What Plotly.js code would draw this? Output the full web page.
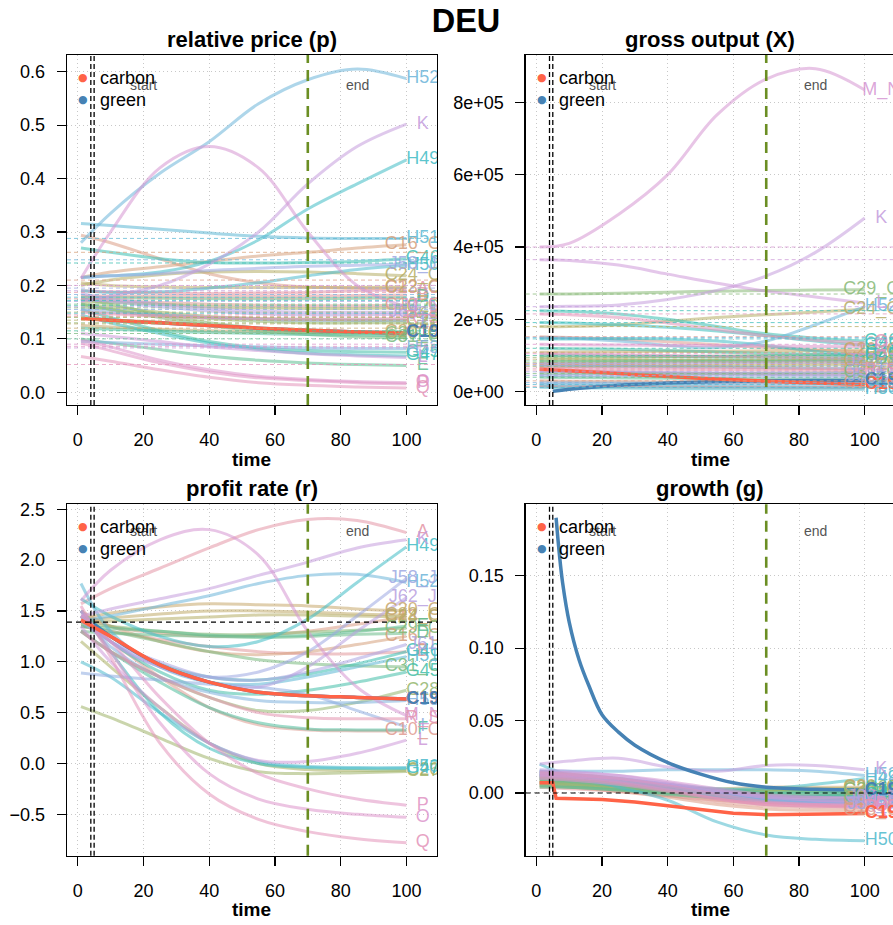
<!DOCTYPE html>
<html>
<head>
<meta charset="utf-8">
<script src="https://cdn.plot.ly/plotly-3.0.1.min.js"></script>
<style>html,body{margin:0;padding:0;background:#fff;}#chart{width:893px;height:925px;}</style>
</head>
<body>
<div id="chart"></div>
<script>
// ---------------- DATA ----------------
const time = [1, 10, 25, 40, 55, 70, 85, 100];
const sectors = ["A","B","C10_C12","C13_C15","C16_C18","C20_C21","C22_C23","C24_C25","C26","C27","C28","C29_C30","C31_C33","D","E","F","G45","G46","G47","H49","H50","H51","H52","H53","I","J58_J60","J61","J62_J63","K","L","M_N","O","P","Q","R_S"];
const xTicks = [0, 20, 40, 60, 80, 100];
const outputTickVals = [0, 200000, 400000, 600000, 800000];
const outputTickText = ["0e+00", "2e+05", "4e+05", "6e+05", "8e+05"];
const panelTitles = ["relative price (p)", "gross output (X)", "profit rate (r)", "growth (g)"];
const figTitle = "DEU";
const carbonLabel = "C19", greenLabel = "C19";

// relative price (p), rows follow `sectors`
const priceSeries = [
 [0.19,0.188,0.186,0.185,0.186,0.187,0.19,0.192],
 [0.18,0.18,0.18,0.18,0.18,0.18,0.181,0.182],
 [0.175,0.172,0.168,0.165,0.163,0.162,0.162,0.163],
 [0.294,0.28,0.25,0.222,0.205,0.197,0.195,0.195],
 [0.215,0.225,0.235,0.245,0.255,0.262,0.27,0.276],
 [0.125,0.122,0.118,0.115,0.113,0.112,0.112,0.112],
 [0.205,0.2,0.197,0.196,0.196,0.196,0.196,0.197],
 [0.2,0.21,0.22,0.225,0.226,0.225,0.222,0.218],
 [0.17,0.168,0.165,0.16,0.158,0.157,0.157,0.158],
 [0.165,0.16,0.15,0.142,0.138,0.136,0.135,0.135],
 [0.16,0.155,0.145,0.138,0.133,0.13,0.13,0.13],
 [0.175,0.165,0.145,0.13,0.12,0.113,0.11,0.108],
 [0.165,0.155,0.14,0.125,0.115,0.108,0.104,0.102],
 [0.178,0.177,0.176,0.175,0.175,0.175,0.176,0.177],
 [0.1,0.092,0.08,0.068,0.06,0.055,0.052,0.05],
 [0.12,0.118,0.115,0.112,0.11,0.108,0.107,0.106],
 [0.155,0.14,0.115,0.095,0.083,0.078,0.076,0.075],
 [0.27,0.262,0.25,0.243,0.242,0.243,0.245,0.25],
 [0.145,0.13,0.11,0.092,0.08,0.073,0.07,0.068],
 [0.215,0.218,0.225,0.245,0.285,0.343,0.39,0.435],
 [0.19,0.187,0.188,0.195,0.205,0.218,0.23,0.238],
 [0.316,0.312,0.305,0.298,0.292,0.289,0.288,0.288],
 [0.28,0.335,0.41,0.469,0.54,0.585,0.605,0.587],
 [0.095,0.093,0.09,0.087,0.085,0.083,0.082,0.082],
 [0.155,0.15,0.145,0.14,0.137,0.135,0.135,0.135],
 [0.215,0.218,0.222,0.228,0.232,0.236,0.238,0.24],
 [0.175,0.17,0.16,0.152,0.147,0.145,0.145,0.146],
 [0.185,0.175,0.165,0.157,0.152,0.15,0.15,0.15],
 [0.17,0.18,0.2,0.24,0.3,0.39,0.46,0.502],
 [0.11,0.105,0.095,0.085,0.078,0.072,0.068,0.065],
 [0.213,0.3,0.42,0.46,0.42,0.3,0.2,0.16],
 [0.098,0.085,0.06,0.042,0.03,0.024,0.02,0.018],
 [0.092,0.078,0.055,0.038,0.027,0.022,0.018,0.016],
 [0.067,0.058,0.042,0.028,0.018,0.013,0.01,0.008],
 [0.15,0.147,0.142,0.14,0.138,0.137,0.137,0.138]
];
// dashed reference levels in the price panel, one per sector
const priceRef = [0.187,0.175,0.142,0.21,0.262,0.12,0.128,0.135,0.15,0.14,0.13,0.158,0.11,0.165,0.1,0.115,0.162,0.242,0.172,0.148,0.178,0.288,0.248,0.183,0.155,0.195,0.17,0.16,0.19,0.083,0.2,0.09,0.086,0.052,0.145];

// gross output (X)
const outputSeries = [
 [60000,58000,55000,52000,50000,48000,47000,46000],
 [15000,14500,14000,13000,12500,12000,11500,11000],
 [152000,150000,145000,138000,130000,122000,116000,110000],
 [30000,29000,28000,27000,26000,25000,24000,23000],
 [75000,74000,72000,70000,68000,66000,64000,62000],
 [109000,110000,111000,112000,112000,113000,114000,115000],
 [90000,89000,88000,87000,86000,85000,84000,83000],
 [180000,180000,185000,195000,205000,213000,220000,228000],
 [70000,70000,71000,72000,73000,74000,75000,76000],
 [80000,80000,81000,82000,83000,84000,86000,88000],
 [95000,95000,96000,97000,98000,100000,102000,105000],
 [270000,270000,272000,275000,278000,280000,281000,282000],
 [50000,50000,50000,50000,50000,51000,52000,53000],
 [85000,85000,86000,87000,88000,88000,89000,90000],
 [40000,39000,38000,37000,36000,35000,34000,33000],
 [100000,100000,99000,98000,97000,96000,95000,95000],
 [120000,119000,117000,114000,110000,106000,103000,100000],
 [224000,222000,215000,200000,180000,160000,148000,140000],
 [191000,190000,185000,178000,168000,155000,140000,128000],
 [146000,146000,147000,146000,140000,128000,112000,100000],
 [12000,11000,10000,9000,8000,7500,7000,6500],
 [20000,19000,18000,17000,16000,15000,14000,13000],
 [150000,148000,140000,128000,122000,140000,185000,235000],
 [25000,25000,24000,24000,23000,23000,22000,22000],
 [72000,71000,70000,69000,68000,67000,66000,65000],
 [45000,45000,44000,44000,43000,43000,42000,42000],
 [55000,55000,54000,53000,52000,51000,50000,50000],
 [78000,78000,78000,79000,80000,81000,82000,83000],
 [235000,236000,240000,255000,280000,320000,385000,480000],
 [365000,363000,350000,325000,300000,278000,262000,245000],
 [400000,410000,490000,600000,765000,864000,893000,834000],
 [131000,130000,129000,128000,127000,126000,125000,124000],
 [105000,104000,102000,100000,98000,96000,94000,92000],
 [215000,213000,205000,190000,172000,155000,142000,135000],
 [65000,64000,63000,62000,61000,60000,59000,58000]
];

// profit rate (r)
const profitSeries = [
 [1.57,1.72,1.92,2.12,2.3,2.4,2.39,2.27],
 [1.35,1.3,1.22,1.15,1.1,1.08,1.08,1.1],
 [1.4,1.2,0.85,0.55,0.38,0.33,0.32,0.32],
 [1.45,1.35,1.28,1.25,1.26,1.3,1.37,1.44],
 [1.5,1.35,1.2,1.1,1.07,1.1,1.17,1.25],
 [1.42,1.48,1.54,1.57,1.56,1.55,1.52,1.5],
 [1.4,1.43,1.47,1.5,1.5,1.49,1.47,1.46],
 [1.38,1.4,1.42,1.44,1.46,1.46,1.45,1.44],
 [1.2,0.95,0.55,0.2,0.0,-0.06,-0.07,-0.07],
 [0.56,0.45,0.25,0.05,-0.08,-0.1,-0.09,-0.08],
 [1.3,1.1,0.85,0.65,0.52,0.52,0.6,0.72],
 [1.38,1.35,1.3,1.27,1.27,1.29,1.31,1.33],
 [1.35,1.3,1.2,1.1,1.02,0.98,0.96,0.95],
 [1.3,1.28,1.26,1.25,1.24,1.25,1.27,1.28],
 [1.35,1.33,1.3,1.26,1.25,1.26,1.3,1.35],
 [1.3,1.1,0.8,0.55,0.4,0.34,0.33,0.33],
 [1.45,1.2,0.9,0.72,0.68,0.72,0.8,0.9],
 [1.5,1.25,0.98,0.85,0.82,0.88,0.98,1.1],
 [1.5,1.1,0.5,0.15,0.0,-0.04,-0.05,-0.05],
 [1.62,1.45,1.25,1.15,1.2,1.42,1.78,2.13],
 [1.0,0.85,0.5,0.2,0.02,-0.03,-0.04,-0.04],
 [1.77,1.3,0.95,0.8,0.78,0.85,0.95,1.05],
 [1.4,1.45,1.55,1.65,1.77,1.85,1.86,1.78],
 [1.45,1.15,0.85,0.7,0.62,0.6,0.6,0.62],
 [0.89,0.86,0.82,0.78,0.75,0.68,0.52,0.36],
 [1.5,1.2,0.95,0.85,0.9,1.1,1.45,1.82],
 [1.4,1.2,1.0,0.85,0.82,0.9,1.03,1.17],
 [1.45,1.2,0.95,0.8,0.75,0.95,1.3,1.63],
 [1.45,1.52,1.62,1.72,1.85,1.98,2.12,2.2],
 [1.35,1.0,0.55,0.2,0.03,0.02,0.1,0.23],
 [1.6,1.9,2.2,2.3,2.05,1.3,0.75,0.47],
 [1.5,1.1,0.4,-0.1,-0.35,-0.45,-0.5,-0.53],
 [1.45,1.2,0.65,0.2,-0.1,-0.25,-0.35,-0.41],
 [1.55,1.05,0.2,-0.3,-0.55,-0.67,-0.74,-0.78],
 [1.3,1.1,0.85,0.65,0.5,0.45,0.44,0.44]
];
const profitRef = 1.39;

// growth (g)
const growthSeries = [
 [0.012,0.011,0.008,0.004,0.0,-0.002,-0.002,-0.001],
 [0.004,0.003,0.001,-0.002,-0.005,-0.007,-0.007,-0.006],
 [0.006,0.005,0.002,-0.002,-0.006,-0.009,-0.01,-0.01],
 [0.005,0.004,0.001,-0.003,-0.008,-0.011,-0.012,-0.012],
 [0.008,0.007,0.004,0.0,-0.004,-0.006,-0.006,-0.005],
 [0.009,0.008,0.006,0.004,0.003,0.004,0.004,0.004],
 [0.007,0.006,0.004,0.002,0.001,0.002,0.002,0.002],
 [0.01,0.009,0.007,0.004,0.002,0.002,0.003,0.003],
 [0.006,0.005,0.003,0.0,-0.002,-0.003,-0.002,-0.001],
 [0.008,0.007,0.005,0.002,0.0,-0.001,0.0,0.0],
 [0.011,0.01,0.007,0.004,0.002,0.001,0.002,0.003],
 [0.01,0.009,0.007,0.004,0.002,0.002,0.002,0.002],
 [0.007,0.006,0.003,0.0,-0.003,-0.004,-0.004,-0.003],
 [0.004,0.004,0.002,0.0,-0.001,0.0,0.001,0.001],
 [0.005,0.004,0.002,-0.001,-0.003,-0.003,-0.002,-0.001],
 [0.009,0.008,0.005,0.001,-0.003,-0.005,-0.005,-0.004],
 [0.013,0.012,0.009,0.005,0.002,0.0,0.0,0.0],
 [0.011,0.01,0.007,0.003,0.0,-0.002,-0.002,-0.002],
 [0.012,0.011,0.008,0.003,-0.002,-0.005,-0.005,-0.004],
 [0.015,0.013,0.01,0.006,0.003,0.003,0.006,0.01],
 [0.02,0.012,0.004,-0.005,-0.02,-0.029,-0.032,-0.033],
 [0.014,0.013,0.01,0.005,0.0,-0.004,-0.006,-0.006],
 [0.015,0.015,0.015,0.016,0.016,0.016,0.015,0.012],
 [0.01,0.009,0.006,0.002,-0.003,-0.006,-0.007,-0.007],
 [0.013,0.012,0.009,0.005,0.0,-0.004,-0.006,-0.007],
 [0.012,0.011,0.008,0.004,-0.001,-0.005,-0.007,-0.008],
 [0.014,0.013,0.01,0.006,0.001,-0.003,-0.005,-0.005],
 [0.016,0.015,0.012,0.007,0.002,-0.002,-0.003,-0.003],
 [0.02,0.022,0.024,0.018,0.015,0.019,0.019,0.016],
 [0.013,0.012,0.01,0.006,0.001,-0.003,-0.005,-0.006],
 [0.015,0.014,0.012,0.008,0.003,-0.001,-0.003,-0.004],
 [0.011,0.01,0.007,0.002,-0.004,-0.008,-0.009,-0.009],
 [0.012,0.011,0.008,0.003,-0.003,-0.007,-0.008,-0.008],
 [0.014,0.013,0.01,0.005,-0.001,-0.006,-0.008,-0.009],
 [0.01,0.009,0.006,0.001,-0.004,-0.008,-0.009,-0.01]
];
const growthRef = 0;

// carbon (C19) and green (C19) series
const carbonPrice = [0.138,0.135,0.13,0.125,0.12,0.116,0.113,0.111];
const carbonOutput = [62000,58000,50000,42000,35000,29000,24000,20000];
const carbonProfit = [1.41,1.25,0.97,0.8,0.7,0.667,0.65,0.633];
const carbonGrowthTime = [1,5,6,10,15,20,30,40,50,60,70,80,90,100];
const carbonGrowth = [0.0071,0.0071,-0.0037,-0.0038,-0.0041,-0.0045,-0.0062,-0.009,-0.0118,-0.014,-0.015,-0.0149,-0.0145,-0.0142];
const greenTime = [5,10,25,40,55,70,85,100];
const greenPrice = [0.137,0.135,0.13,0.125,0.12,0.116,0.113,0.111];
const greenOutput = [1000,7000,18000,24000,28000,30000,31000,31000];
const greenProfit = [1.37,1.25,0.97,0.8,0.7,0.667,0.65,0.633];
const greenGrowthTime = [6,7,8,10,13,16,20,25,30,40,50,60,70,85,100];
const greenGrowth = [0.19,0.165,0.145,0.118,0.092,0.074,0.054,0.042,0.033,0.021,0.013,0.007,0.004,0.0025,0.002];

// markers of the shock period
const startLines = [4, 5];
const endLine = 70;
const startText = {t: 20, label: "start"};
const endText = {t: 85, label: "end"};

// ---------------- STYLE / HELPERS ----------------
const FONT = "Liberation Sans, Arial, Helvetica, sans-serif";
const CARBON = "#FF6347", GREEN = "#4682B4", ENDGREEN = "#6B8E23";
function hcl(h, c, l) {
  const hr = h * Math.PI / 180, U = c * Math.cos(hr), V = c * Math.sin(hr);
  const Xn = 95.047, Yn = 100, Zn = 108.883, den = Xn + 15 * Yn + 3 * Zn;
  const un = 4 * Xn / den, vn = 9 * Yn / den;
  const Y = l > 8 ? Yn * Math.pow((l + 16) / 116, 3) : Yn * l / 903.3;
  const u = U / (13 * l) + un, v = V / (13 * l) + vn;
  const X = 9 * Y * u / (4 * v), Z = -X / 3 - 5 * Y + 3 * Y / v;
  const x = X / 100, y = Y / 100, z = Z / 100;
  const r = 3.240479 * x - 1.53715 * y - 0.498535 * z;
  const g = -0.969256 * x + 1.875992 * y + 0.041556 * z;
  const b = 0.055648 * x - 0.204043 * y + 1.057311 * z;
  const gam = t => { t = t <= 0.0031308 ? 12.92 * t : 1.055 * Math.pow(Math.max(t, 0), 1 / 2.4) - 0.055; return Math.round(255 * Math.min(1, Math.max(0, t))); };
  return [gam(r), gam(g), gam(b)];
}
const nHue = sectors.length + 1;
const baseCols = sectors.map((s, i) => hcl((i < 5 ? i : i + 1) * 360 / nHue, 50, 70));
const rgba = (c, a) => `rgba(${c[0]},${c[1]},${c[2]},${a})`;

const W = 893, H = 925;
const boxes = [
  {l: 67, r: 437, t: 55, b: 405, xr: [-3.25, 109.3], yr: [-0.0238, 0.6313]},
  {l: 525.7, r: 893, t: 55, b: 405, xr: [-3.25, 108.6], yr: [-36770, 930750]},
  {l: 67, r: 437, t: 504.3, b: 855.7, xr: [-3.25, 109.3], yr: [-0.907, 2.549]},
  {l: 525.7, r: 893, t: 504.3, b: 855.7, xr: [-3.25, 108.6], yr: [-0.0433, 0.1993]}
];
const panels = [
  {series: priceSeries, carbonT: time, carbon: carbonPrice, green: greenPrice, greenT: greenTime},
  {series: outputSeries, carbonT: time, carbon: carbonOutput, green: greenOutput, greenT: greenTime},
  {series: profitSeries, carbonT: time, carbon: carbonProfit, green: greenProfit, greenT: greenTime},
  {series: growthSeries, carbonT: carbonGrowthTime, carbon: carbonGrowth, green: greenGrowth, greenT: greenGrowthTime}
];
const labelX = 105;

const traces = [], shapes = [], annotations = [];
const layout = {
  width: W, height: H, margin: {l: 0, r: 0, t: 0, b: 0},
  paper_bgcolor: "#fff", plot_bgcolor: "#fff", showlegend: false,
  font: {family: FONT, color: "#000"},
  title: {text: "<b>" + figTitle + "</b>", font: {size: 32.5, family: FONT, color: "#000"},
          x: 466 / W, xanchor: "center", y: 1 - 21 / H, yanchor: "middle", yref: "container"},
  shapes: shapes, annotations: annotations
};

boxes.forEach((bx, k) => {
  const n = k + 1, xa = "x" + (n === 1 ? "" : n), ya = "y" + (n === 1 ? "" : n);
  const xkey = "xaxis" + (n === 1 ? "" : n), ykey = "yaxis" + (n === 1 ? "" : n);
  const right = (k % 2 === 1);
  const common = {showline: true, linecolor: "#000", linewidth: 1.3, ticks: "outside", ticklen: 9, tickwidth: 1.2, tickcolor: "#000",
    showgrid: true, gridcolor: "#c8c8c8", griddash: "1px,3px", gridwidth: 1, zeroline: false, fixedrange: true,
    tickfont: {size: 18, family: FONT, color: "#000"}};
  layout[xkey] = Object.assign({}, common, {domain: [bx.l / W, Math.min(1, bx.r / W)], range: bx.xr, anchor: ya, mirror: true,
    tickmode: "array", tickvals: xTicks, ticklabelstandoff: 9});
  const yax = Object.assign({}, common, {domain: [1 - bx.b / H, 1 - bx.t / H], range: bx.yr, anchor: xa, mirror: !right, ticklabelstandoff: 8});
  if (k === 0) Object.assign(yax, {tickmode: "array", tickvals: [0, 0.1, 0.2, 0.3, 0.4, 0.5, 0.6], tickformat: ".1f"});
  if (k === 1) Object.assign(yax, {tickmode: "array", tickvals: outputTickVals, ticktext: outputTickText});
  if (k === 2) Object.assign(yax, {tickmode: "array", tickvals: [-0.5, 0, 0.5, 1, 1.5, 2, 2.5], tickformat: ".1f"});
  if (k === 3) Object.assign(yax, {tickmode: "array", tickvals: [0, 0.05, 0.1, 0.15], tickformat: ".2f"});
  layout[ykey] = yax;

  const P = panels[k];
  // reference dashed horizontal lines
  if (k === 0 || k === 1) {
    sectors.forEach((s, i) => {
      const yv = k === 0 ? priceRef[i] : outputSeries[i][0];
      shapes.push({type: "line", xref: xa + " domain", yref: ya, x0: 0, x1: 1, y0: yv, y1: yv,
        line: {color: rgba(baseCols[i], 0.75), width: 1, dash: "4px,3px"}, layer: "above"});
    });
  } else {
    const yv = k === 2 ? profitRef : growthRef;
    shapes.push({type: "line", xref: xa + " domain", yref: ya, x0: 0, x1: 1, y0: yv, y1: yv,
      line: {color: "#000", width: 1.2, dash: "5px,4px"}, layer: "above"});
  }
  // sector lines
  P.series.forEach((ys, i) => {
    traces.push({x: time, y: ys, xaxis: xa, yaxis: ya, mode: "lines", hoverinfo: "skip",
      line: {color: rgba(baseCols[i], 0.55), width: 3, shape: "spline", smoothing: 1}});
  });
  traces.push({x: P.greenT, y: P.green, xaxis: xa, yaxis: ya, mode: "lines", hoverinfo: "skip",
    line: {color: GREEN, width: 3.5, shape: "spline", smoothing: 1}});
  traces.push({x: P.carbonT, y: P.carbon, xaxis: xa, yaxis: ya, mode: "lines", hoverinfo: "skip",
    line: {color: CARBON, width: 3.5, shape: k === 3 ? "linear" : "spline"}});
  // end labels
  traces.push({x: sectors.map(() => labelX), y: P.series.map(ys => ys[ys.length - 1]), text: sectors,
    xaxis: xa, yaxis: ya, mode: "text", textposition: "middle center", cliponaxis: true, hoverinfo: "skip",
    textfont: {size: 18, family: FONT, color: baseCols.map(c => rgba(c, 0.85))}});
  traces.push({x: [labelX], y: [P.carbon[P.carbon.length - 1]], text: ["<b>" + carbonLabel + "</b>"], xaxis: xa, yaxis: ya,
    mode: "text", textposition: "middle center", cliponaxis: true, hoverinfo: "skip", textfont: {size: 18, family: FONT, color: CARBON}});
  traces.push({x: [labelX], y: [P.green[P.green.length - 1]], text: ["<b>" + greenLabel + "</b>"], xaxis: xa, yaxis: ya,
    mode: "text", textposition: "middle center", cliponaxis: true, hoverinfo: "skip", textfont: {size: 18, family: FONT, color: GREEN}});

  // vertical markers
  startLines.forEach(t => shapes.push({type: "line", xref: xa, yref: ya + " domain", x0: t, x1: t, y0: 0, y1: 1,
    line: {color: "#000", width: 1.3, dash: "5px,3px"}, layer: "above"}));
  shapes.push({type: "line", xref: xa, yref: ya + " domain", x0: endLine, x1: endLine, y0: 0, y1: 1,
    line: {color: ENDGREEN, width: 2.6, dash: "11px,7px"}, layer: "above"});

  const bh = bx.b - bx.t;
  const ty = k < 2 ? 0.915 : 0.924;
  annotations.push({xref: xa, yref: ya + " domain", x: startText.t, y: ty, text: startText.label, showarrow: false,
    xanchor: "center", yanchor: "middle", font: {size: 14, family: FONT, color: "#555"}});
  annotations.push({xref: xa, yref: ya + " domain", x: endText.t, y: ty, text: endText.label, showarrow: false,
    xanchor: "center", yanchor: "middle", font: {size: 14, family: FONT, color: "#555"}});
  // legend
  [["carbon", CARBON, 22.5], ["green", GREEN, 44.5]].forEach(([lab, col, dy]) => {
    const yd = 1 - dy / bh;
    annotations.push({xref: "paper", yref: ya + " domain", x: (bx.l + 16.3) / W, y: yd, text: "●", showarrow: false,
      xanchor: "center", yanchor: "middle", font: {size: 11, family: "DejaVu Sans", color: col}});
    annotations.push({xref: "paper", yref: ya + " domain", x: (bx.l + 31) / W, y: yd, text: lab, showarrow: false,
      xanchor: "left", yanchor: "middle", font: {size: 18, family: FONT, color: "#000"}});
  });
  // subplot title
  const cx = (bx.l + (right ? 895 : bx.r)) / 2;
  annotations.push({xref: "paper", yref: "paper", x: cx / W, y: 1 - (bx.t - 16) / H, text: "<b>" + panelTitles[k] + "</b>",
    showarrow: false, xanchor: "center", yanchor: "middle", font: {size: 22, family: FONT, color: "#000"}});
  // x axis title
  annotations.push({xref: "paper", yref: "paper", x: cx / W, y: 1 - (bx.b + 54) / H, text: "<b>time</b>",
    showarrow: false, xanchor: "center", yanchor: "middle", font: {size: 19, family: FONT, color: "#000"}});
});

Plotly.newPlot("chart", traces, layout, {displayModeBar: false, staticPlot: true});
</script>
</body>
</html>
